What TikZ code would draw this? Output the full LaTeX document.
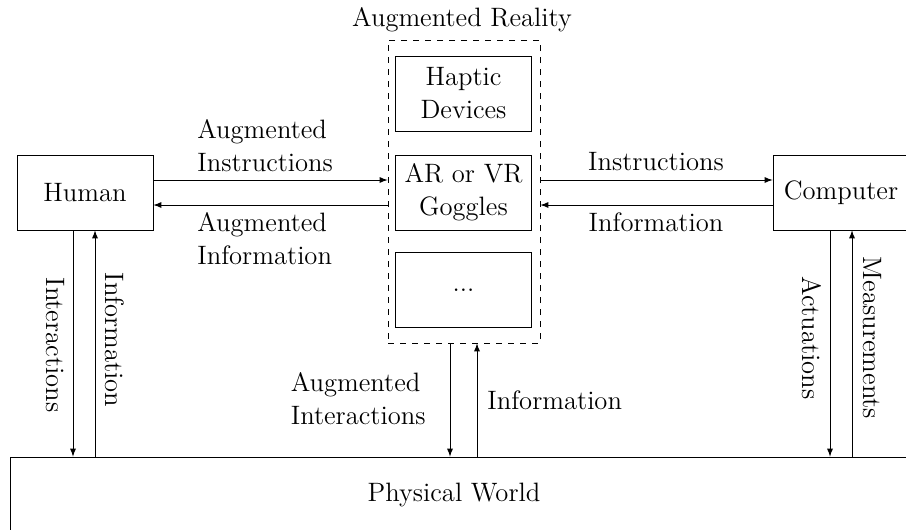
\documentclass[tikz,border=0pt]{standalone}
\usetikzlibrary{arrows}
\begin{document}
\begin{tikzpicture}[x=0.5pt,y=-0.5pt,
  box/.style={draw,rectangle,minimum width=68pt,minimum height=37.5pt,align=center,inner sep=0pt},
  lbl/.style={align=left,inner sep=0pt},
  arr/.style={-latex},
  every node/.style={font=\fontsize{13.3}{16.5}\selectfont}]
\useasboundingbox (0,0) rectangle (906,530);
\clip (0,0) rectangle (906,530);

% boxes
\node[box] (human) at (85,192.5) {Human};
\node[box] (comp) at (841,192.5) {Computer};
\node[box] (haptic) at (463.5,93.5) {Haptic\\Devices};
\node[box] (goggles) at (463.5,192.5) {AR or VR\\Goggles};
\node[box] (dots) at (463.5,290) {...};
\node[draw,dashed,rectangle,minimum width=76pt,minimum height=151.5pt,inner sep=0pt] (ar) at (464,191.5) {};
\node[anchor=base,inner sep=0pt] (artitle) at (462,26) {Augmented Reality};
\node[draw,rectangle,minimum width=455pt,minimum height=56.5pt,inner sep=0pt] (world) at (465,513.5) {};
\node (worldlbl) at (454,495) {Physical World};

% connection points
\coordinate (h1) at (human.east |- 0,180);
\coordinate (h2) at (human.east |- 0,205);
\coordinate (a1) at (ar.west |- 0,180);
\coordinate (a2) at (ar.west |- 0,205);
\coordinate (b1) at (ar.east |- 0,180);
\coordinate (b2) at (ar.east |- 0,205);
\coordinate (c1) at (comp.west |- 0,180);
\coordinate (c2) at (comp.west |- 0,205);

\draw[arr] (h1) -- (a1);
\draw[arr] (a2) -- (h2);
\draw[arr] (b1) -- (c1);
\draw[arr] (c2) -- (b2);

\coordinate (hd) at (73,0);
\coordinate (hu) at (95,0);
\draw[arr] (human.south -| hd) -- (world.north -| hd);
\draw[arr] (world.north -| hu) -- (human.south -| hu);
\coordinate (ad) at (450,0);
\coordinate (au) at (477,0);
\draw[arr] (ar.south -| ad) -- (world.north -| ad);
\draw[arr] (world.north -| au) -- (ar.south -| au);
\coordinate (cd) at (830,0);
\coordinate (cu) at (852,0);
\draw[arr] (comp.south -| cd) -- (world.north -| cd);
\draw[arr] (world.north -| cu) -- (comp.south -| cu);

% labels
\node[lbl,anchor=south west] (l1) at (197,172) {Augmented\\Instructions};
\node[lbl,anchor=south west] (l2) at (197,265) {Augmented\\Information};
\node[lbl,anchor=south] (l3) at (656,171) {Instructions};
\node[lbl,anchor=south] (l4) at (656,232) {Information};
\node[lbl,anchor=south east] (l5) at (426,425) {Augmented\\Interactions};
\node[lbl,anchor=base west] (l6) at (487,409) {Information};
\node[lbl,rotate=-90] (l7) at (55,345) {Interactions};
\node[lbl,rotate=-90] (l8) at (115,340) {Information};
\node[lbl,rotate=-90] (l9) at (812,338) {Actuations};
\node[lbl,rotate=-90] (l10) at (872,338) {Measurements};
\end{tikzpicture}
\end{document}
